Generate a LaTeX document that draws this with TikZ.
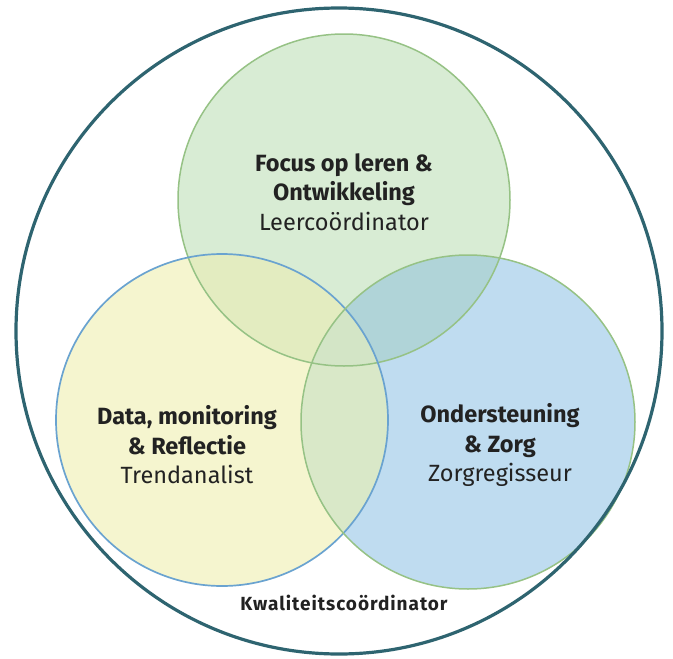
\documentclass[tikz,border=0pt]{standalone}
\usepackage{fontspec}
\setmainfont{Fira Sans}
\definecolor{topfill}{HTML}{D8ECD4}
\definecolor{leftfill}{HTML}{F5F5CF}
\definecolor{rightfill}{HTML}{BFDCF0}
\definecolor{ltfill}{HTML}{E3ECC0}
\definecolor{rtfill}{HTML}{B0D4D8}
\definecolor{lrfill}{HTML}{D9E8C8}
\definecolor{midfill}{HTML}{D3E5C6}
\definecolor{greenline}{HTML}{96C285}
\definecolor{blueline}{HTML}{6AA3D0}
\definecolor{outerline}{HTML}{2E6470}
\definecolor{textdark}{HTML}{222222}
\newcommand{\rolefont}{\fontsize{23.5}{29}\selectfont\mdseries\color{textdark}}
\tikzset{
  area/.style={align=center, text=textdark, font=\fontsize{23.5}{29.5}\selectfont}
}

\begin{document}
\begin{tikzpicture}[x=1pt,y=-1pt]

\useasboundingbox (0,0) rectangle (673,659);

% Define the coordinates
\coordinate (O) at (339,331);
\coordinate (T) at (344,200);
\coordinate (L) at (222,420);
\coordinate (R) at (468,422);

% Fill the three circles
\fill[topfill] (T) circle[radius=166];
\fill[leftfill] (L) circle[radius=166];
\fill[rightfill] (R) circle[radius=167];

% Fill the overlaps
\begin{scope}
  \clip (L) circle[radius=166];
  \fill[ltfill] (T) circle[radius=166];
  \fill[lrfill] (R) circle[radius=167];
  \clip (T) circle[radius=166];
  \fill[midfill] (R) circle[radius=167];
\end{scope}
\begin{scope}
  \clip (R) circle[radius=167];
  \fill[rtfill] (T) circle[radius=166];
  \clip (L) circle[radius=166];
  \fill[midfill] (T) circle[radius=166];
\end{scope}

% Draw the circle outlines
\draw[greenline, line width=1.5pt] (T) circle[radius=166];
\draw[blueline, line width=1.7pt] (L) circle[radius=166];
\draw[greenline, line width=1.5pt] (R) circle[radius=167];
\draw[outerline, line width=3.2pt] (O) circle[radius=323];

% Label the areas
\node[area] (focus) at (344,192) {\bfseries Focus op leren \&\\\bfseries Ontwikkeling\\{\rolefont Leercoördinator}};
\node[area] (data) at (187,445) {\bfseries Data, monitoring\\\bfseries \& Reflectie\\{\rolefont Trendanalist}};
\node[area] (zorg) at (500,445) {\bfseries Ondersteuning\\\bfseries \& Zorg\\{\rolefont Zorgregisseur}};

% Label the outer circle
\node[text=textdark, font=\fontsize{19}{22}\selectfont\bfseries\addfontfeatures{LetterSpace=5}] (kwal) at (344,603) {Kwaliteitscoördinator};

\end{tikzpicture}
\end{document}
